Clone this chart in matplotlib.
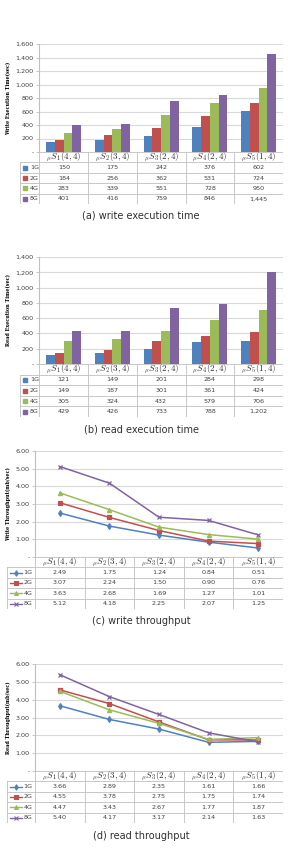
"""
Write / read execution time and throughput for the five settings.
"""

import numpy
import matplotlib
matplotlib.use('Agg')
import matplotlib.pyplot as plt
from matplotlib.ticker import FuncFormatter, MultipleLocator

plt.rcParams['mathtext.fontset'] = 'cm'

# data
categories = [r'${}_{\mu}S_1(4,4)$', r'${}_{\mu}S_2(3,4)$', r'${}_{\mu}S_3(2,4)$',
              r'${}_{\mu}S_4(2,4)$', r'${}_{\mu}S_5(1,4)$']
series = ['1G', '2G', '4G', '8G']

write_time = [[150, 175, 242, 376, 602],
              [184, 256, 362, 531, 724],
              [283, 339, 551, 728, 950],
              [401, 416, 759, 846, 1445]]
read_time = [[121, 149, 201, 284, 298],
             [149, 187, 301, 361, 424],
             [305, 324, 432, 579, 706],
             [429, 426, 733, 788, 1202]]
write_tp = [[2.49, 1.75, 1.24, 0.84, 0.51],
            [3.07, 2.24, 1.50, 0.90, 0.76],
            [3.63, 2.68, 1.69, 1.27, 1.01],
            [5.12, 4.18, 2.25, 2.07, 1.25]]
read_tp = [[3.66, 2.89, 2.35, 1.61, 1.66],
           [4.55, 3.78, 2.75, 1.75, 1.74],
           [4.47, 3.43, 2.67, 1.77, 1.87],
           [5.40, 4.17, 3.17, 2.14, 1.63]]

colors = ['#4F81BD', '#C0504D', '#9BBB59', '#8064A2']
markers = ['d', 's', '^', 'x']
GRID = '#D9D9D9'
EDGE = '#BFBFBF'
TXT = '#404040'

W, H = 288, 856
fig = plt.figure(figsize=(W/100., H/100.), dpi=100)


def px_axes(x0, y0, x1, y1):
    # pixel box (top-left origin) -> figure axes
    return fig.add_axes([x0/W, 1-y1/H, (x1-x0)/W, (y1-y0)/H])


def fmt_int(v, pos):
    return '-' if v == 0 else '{:,.0f}'.format(v)


def fmt_flt(v, pos):
    return '-' if v == 0 else '{:.2f}'.format(v)


def style_plot(ax, ymax, step, fmt, ylabel):
    ax.set_xlim(-0.5, 4.5)
    ax.set_ylim(0, ymax)
    ax.yaxis.set_major_locator(MultipleLocator(step))
    ax.yaxis.set_major_formatter(FuncFormatter(fmt))
    ax.grid(axis='y', color=GRID, lw=0.8)
    ax.set_axisbelow(True)
    for s in ['top', 'right', 'bottom']:
        ax.spines[s].set_visible(False)
    ax.spines['left'].set_color(EDGE)
    ax.set_xticks([])
    ax.tick_params(axis='y', labelsize=4.6, colors=EDGE, labelcolor=TXT,
                   length=2, width=0.6, pad=2)
    ax.set_ylabel(ylabel, fontsize=3.5, family='DejaVu Serif',
                  fontweight='bold', labelpad=3)


def draw_table(tax, values, lw, fmt, kind):
    tax.set_xlim(-0.5-lw, 4.5)
    tax.set_ylim(5, 0)
    tax.axis('off')
    # grid lines
    tax.plot([-0.5, 4.5], [0, 0], color=EDGE, lw=0.6)
    for r in range(1, 6):
        tax.plot([-0.5-lw, 4.5], [r, r], color=EDGE, lw=0.6)
    for c in range(6):
        tax.plot([-0.5+c, -0.5+c], [0, 5], color=EDGE, lw=0.6)
    tax.plot([-0.5-lw, -0.5-lw], [1, 5], color=EDGE, lw=0.6)
    for i, lab in enumerate(categories):
        tax.text(i, 0.55, lab, ha='center', va='center', fontsize=6.5,
                 color='#303030')
    for r, name in enumerate(series):
        y = r+1.5
        if kind == 'bar':
            tax.plot(-0.5-lw*0.72, y, marker='s', ms=2.6, color=colors[r],
                     ls='none')
            tax.text(-0.5-lw*0.5, y, name, ha='left', va='center',
                     fontsize=4.6, color=TXT)
        else:
            tax.plot([-0.5-lw*0.88, -0.5-lw*0.45], [y, y], color=colors[r],
                     lw=1.0)
            tax.plot(-0.5-lw*0.665, y, marker=markers[r], color=colors[r],
                     ms=2.8, mew=0.8)
            tax.text(-0.5-lw*0.42, y, name, ha='left', va='center',
                     fontsize=4.6, color=TXT)
        for c in range(5):
            tax.text(c, y, fmt(values[r][c], None), ha='center',
                     va='center', fontsize=4.6, color=TXT)


def bar_panel(top, bottom, tbottom, values, ymax, ylabel, caption, cap_y):
    ax = px_axes(39.3, top, 283, bottom)
    x = numpy.arange(5)
    width = 0.18
    for i, vals in enumerate(values):
        ax.bar(x + (i-1.5)*width, vals, width, color=colors[i], zorder=2)
    style_plot(ax, ymax, 200, fmt_int, ylabel)
    tax = px_axes(20, bottom, 283, tbottom)
    draw_table(tax, values, 0.4, fmt_int, 'bar')
    fig.text(0.49, 1-cap_y/H, caption, ha='center', va='center',
             fontsize=7, color='#303030')


def line_panel(top, bottom, tbottom, values, ylabel, caption, cap_y):
    ax = px_axes(35, top, 283, bottom)
    x = numpy.arange(5)
    for i, vals in enumerate(values):
        ax.plot(x, vals, color=colors[i], marker=markers[i], lw=1.1,
                ms=3.0, mew=0.9, zorder=3)
    style_plot(ax, 6, 1, fmt_flt, ylabel)
    tax = px_axes(7, bottom, 283, tbottom)
    draw_table(tax, values, 0.565, fmt_flt, 'line')
    fig.text(0.49, 1-cap_y/H, caption, ha='center', va='center',
             fontsize=7, color='#303030')


bar_panel(44, 152, 204, write_time, 1600, 'Write Execution Time(sec)',
          '(a) write execution time', 216)
bar_panel(257, 364, 417, read_time, 1400, 'Read Execution Time(sec)',
          '(b) read execution time', 430)
line_panel(451, 557, 609, write_tp, 'Write Throughput(mb/sec)',
           '(c) write throughput', 621)
line_panel(664, 771, 823, read_tp, 'Read Throughput(mb/sec)',
           '(d) read throughput', 836)

fig.savefig('out.png', dpi=100)
